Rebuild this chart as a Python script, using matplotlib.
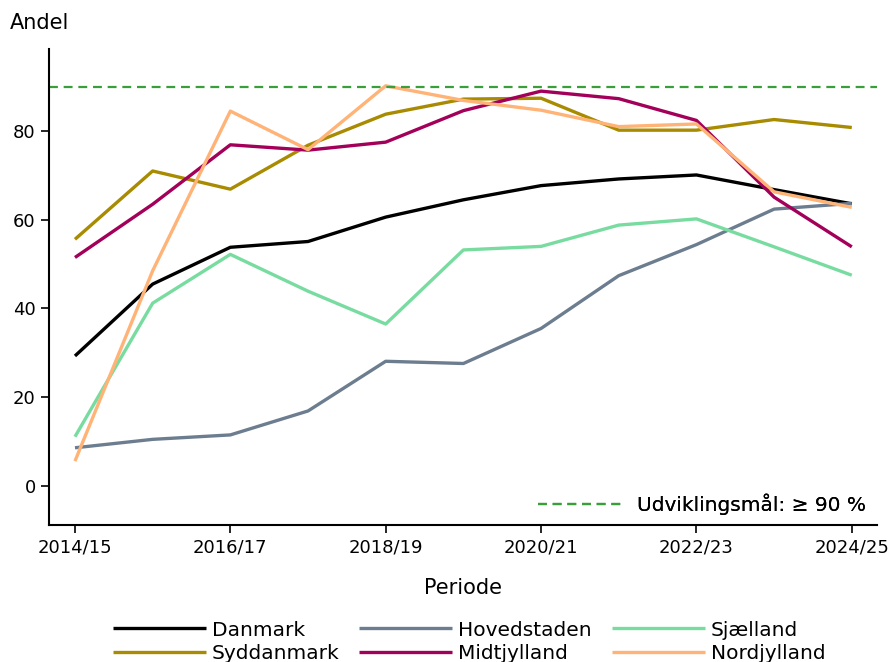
import matplotlib
matplotlib.use("Agg")
import matplotlib.pyplot as plt
from matplotlib.lines import Line2D

# perioder
perioder = ["2014/15", "2015/16", "2016/17", "2017/18", "2018/19", "2019/20",
            "2020/21", "2021/22", "2022/23", "2023/24", "2024/25"]

danmark     = [29.3, 45.5, 53.8, 55.1, 60.6, 64.5, 67.7, 69.2, 70.1, 66.8, 63.6]
hovedstaden = [8.6, 10.5, 11.5, 16.9, 28.1, 27.6, 35.5, 47.4, 54.4, 62.4, 63.7]
sjaelland   = [11.1, 41.2, 52.2, 43.9, 36.5, 53.2, 54.0, 58.8, 60.2, 53.9, 47.5]
syddanmark  = [55.6, 71.0, 66.9, 76.8, 83.8, 87.2, 87.4, 80.2, 80.2, 82.6, 80.8]
midtjylland = [51.5, 63.5, 76.9, 75.7, 77.5, 84.6, 89.0, 87.3, 82.4, 65.1, 53.9]
nordjylland = [5.6, 48.5, 84.5, 75.8, 90.2, 86.9, 84.7, 81.0, 81.6, 66.3, 62.8]

maal = 90

serier = [
    ("Danmark", danmark, "#000000"),
    ("Hovedstaden", hovedstaden, "#6c7d8f"),
    ("Sjælland", sjaelland, "#78dca0"),
    ("Syddanmark", syddanmark, "#a88b00"),
    ("Midtjylland", midtjylland, "#a3005a"),
    ("Nordjylland", nordjylland, "#ffb377"),
]

plt.rcParams['font.family'] = ['DejaVu Sans']
fig = plt.figure(figsize=(8.9, 6.62), dpi=100)
ax = fig.add_axes([0.055, 0.207, 0.93, 0.719])

x = list(range(len(perioder)))
linjer = {}
for navn, vals, farve in serier:
    l, = ax.plot(x, vals, color=farve, lw=2.4, label=navn, solid_capstyle='butt')
    linjer[navn] = l

stil = (0, (4, 2.6))
ax.axhline(maal, color="#3a9e3a", lw=1.6, ls=stil)

ax.set_xlim(-0.335, 10.32)
ax.set_ylim(-8.8, 98.5)
ax.set_xticks(x[::2])
ax.set_xticklabels(perioder[::2])
ax.set_yticks([0, 20, 40, 60, 80])
ax.tick_params(labelsize=13, length=6, width=1.2, direction='out')
for s in ['top', 'right']:
    ax.spines[s].set_visible(False)
for s in ['left', 'bottom']:
    ax.spines[s].set_linewidth(1.5)

ax.set_xlabel("Periode", fontsize=15, labelpad=16)
fig.text(0.011, 0.966, "Andel", fontsize=15, ha='left', va='center')

# mål-legende inde i plottet
maal_h = Line2D([], [], color="#3a9e3a", lw=1.6, ls=stil)
leg2 = ax.legend([maal_h], ["Udviklingsmål: ≥ 90 %"], loc='lower right', frameon=False,
                 fontsize=14.5, handlelength=4.3, handletextpad=0.6,
                 borderaxespad=0.1, bbox_to_anchor=(0.999, 0.0))
ax.add_artist(leg2)

# legende under plottet (rækkevis)
orden = ["Danmark", "Syddanmark", "Hovedstaden", "Midtjylland", "Sjælland", "Nordjylland"]
fig.legend([linjer[n] for n in orden], orden, loc='lower center', ncol=3, frameon=False,
           fontsize=14.5, handlelength=4.6, handletextpad=0.3, columnspacing=1.0,
           labelspacing=0.2, borderaxespad=0.0, bbox_to_anchor=(0.527, -0.013))

fig.savefig("out.png", dpi=100)
